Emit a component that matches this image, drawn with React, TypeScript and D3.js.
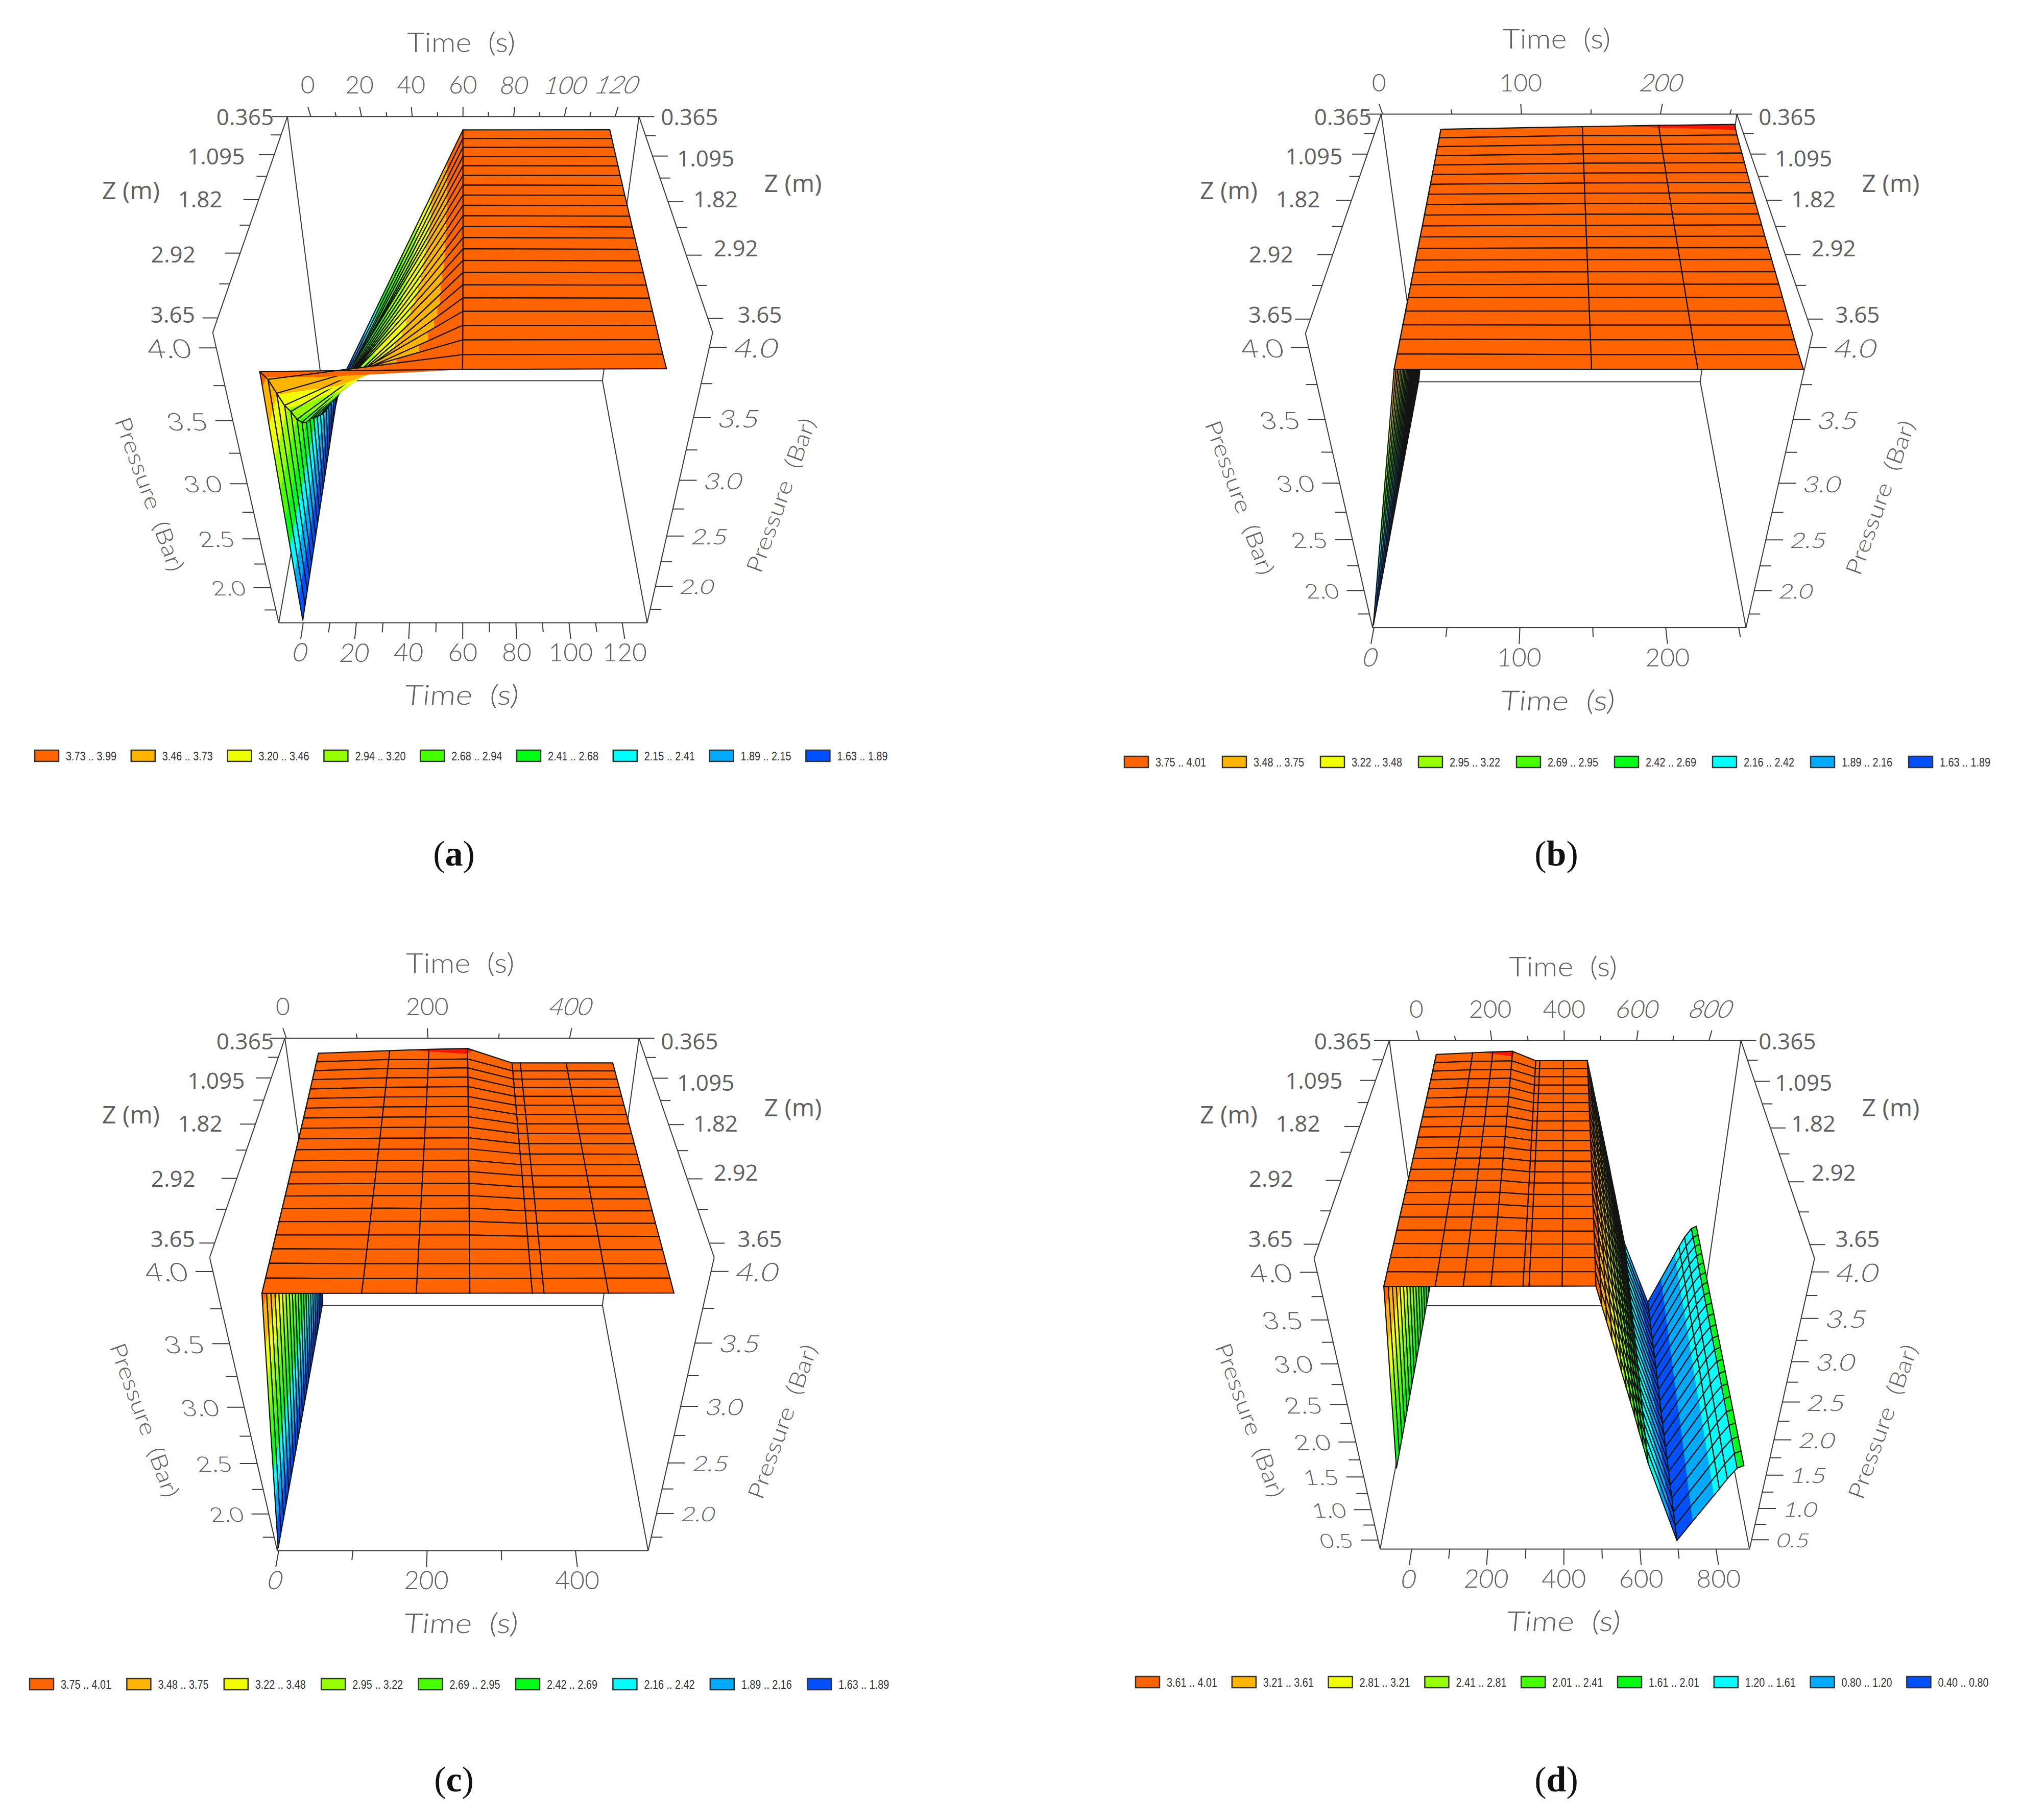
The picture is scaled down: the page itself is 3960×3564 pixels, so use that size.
import React from "react";
import * as d3 from "d3";

const svgWidth = 3960;
const svgHeight = 3564;

// z stations of the grid (22 rows, back of the box to the front)
const zRows = [0.365, 0.511, 0.657, 0.803, 0.949, 1.095, 1.24, 1.386, 1.53, 1.675, 1.82, 2.04, 2.26, 2.48, 2.7, 2.92, 3.066, 3.212, 3.358, 3.504, 3.65, 3.796];
const zTickRows = [0, 2.5, 5, 7.5, 10, 12.5, 15, 17.5, 20];

// pressure per z row, one list for each time column
const startRow = [1.63, 1.63, 1.63, 1.63, 1.63, 1.63, 1.63, 1.63, 1.63, 1.63, 1.63, 1.63, 1.63, 1.63, 1.63, 1.63, 1.63, 1.63, 1.63, 1.63, 1.63, 1.63];
const rampRow = [1.65, 1.67, 1.7, 1.755, 1.81, 1.9, 2.0, 2.06, 2.13, 2.21, 2.3, 2.4, 2.5, 2.61, 2.683, 2.8, 2.94, 3.119, 3.28, 3.482, 3.688, 3.845];
const earlyRow = [3.975, 3.968, 3.961, 3.954, 3.947, 3.94, 3.934, 3.928, 3.922, 3.916, 3.91, 3.905, 3.9, 3.895, 3.89, 3.885, 3.88, 3.875, 3.87, 3.865, 3.86, 3.855];
const settledRow = [3.995, 3.986, 3.977, 3.968, 3.96, 3.951, 3.943, 3.935, 3.928, 3.921, 3.914, 3.908, 3.903, 3.898, 3.893, 3.888, 3.881, 3.875, 3.868, 3.861, 3.856, 3.855];
const midRow = [4.005, 3.985, 3.978, 3.97, 3.962, 3.953, 3.945, 3.937, 3.93, 3.922, 3.915, 3.909, 3.904, 3.899, 3.893, 3.888, 3.881, 3.875, 3.868, 3.861, 3.856, 3.855];
const peakRow = [4.012, 3.99, 3.982, 3.974, 3.965, 3.955, 3.947, 3.939, 3.931, 3.924, 3.917, 3.91, 3.905, 3.9, 3.894, 3.889, 3.882, 3.875, 3.868, 3.861, 3.856, 3.855];
const lateRow = [3.9, 3.898, 3.896, 3.894, 3.892, 3.89, 3.888, 3.886, 3.884, 3.882, 3.88, 3.878, 3.876, 3.874, 3.872, 3.87, 3.868, 3.866, 3.864, 3.861, 3.858, 3.855];

const fall477 = [3.68, 3.68, 3.68, 3.68, 3.68, 3.67, 3.67, 3.67, 3.67, 3.67, 3.67, 3.67, 3.67, 3.67, 3.67, 3.67, 3.67, 3.66, 3.66, 3.66, 3.66, 3.66];
const fall489 = [3.45, 3.45, 3.45, 3.45, 3.45, 3.45, 3.45, 3.46, 3.46, 3.46, 3.46, 3.46, 3.46, 3.46, 3.46, 3.47, 3.47, 3.47, 3.47, 3.47, 3.47, 3.47];
const fall501 = [3.23, 3.23, 3.24, 3.24, 3.24, 3.24, 3.24, 3.25, 3.25, 3.25, 3.25, 3.26, 3.26, 3.26, 3.26, 3.27, 3.27, 3.27, 3.27, 3.27, 3.28, 3.28];
const fall513 = [3.0, 3.0, 3.01, 3.01, 3.02, 3.02, 3.03, 3.03, 3.03, 3.04, 3.04, 3.05, 3.05, 3.06, 3.06, 3.06, 3.07, 3.07, 3.08, 3.08, 3.09, 3.09];
const fall525 = [2.78, 2.79, 2.79, 2.8, 2.8, 2.81, 2.81, 2.82, 2.82, 2.83, 2.83, 2.84, 2.84, 2.85, 2.85, 2.86, 2.86, 2.87, 2.87, 2.88, 2.88, 2.89];
const fall537 = [2.56, 2.57, 2.57, 2.58, 2.59, 2.59, 2.6, 2.61, 2.61, 2.62, 2.63, 2.63, 2.64, 2.64, 2.65, 2.66, 2.66, 2.67, 2.68, 2.68, 2.69, 2.7];
const fall549 = [2.33, 2.34, 2.35, 2.36, 2.36, 2.37, 2.38, 2.39, 2.4, 2.41, 2.42, 2.42, 2.43, 2.44, 2.45, 2.46, 2.47, 2.48, 2.48, 2.49, 2.5, 2.51];
const fall561 = [2.11, 2.12, 2.13, 2.14, 2.15, 2.16, 2.17, 2.18, 2.19, 2.2, 2.21, 2.22, 2.23, 2.24, 2.25, 2.26, 2.27, 2.28, 2.29, 2.3, 2.31, 2.32];
const fall573 = [1.88, 1.89, 1.9, 1.92, 1.93, 1.94, 1.95, 1.96, 1.97, 1.98, 2.0, 2.01, 2.02, 2.03, 2.04, 2.05, 2.06, 2.07, 2.09, 2.1, 2.11, 2.12];
const fall585 = [1.66, 1.67, 1.69, 1.7, 1.71, 1.72, 1.74, 1.75, 1.76, 1.78, 1.79, 1.8, 1.81, 1.83, 1.84, 1.85, 1.87, 1.88, 1.89, 1.9, 1.92, 1.93];
const fall600 = [1.38, 1.39, 1.41, 1.42, 1.44, 1.45, 1.47, 1.48, 1.5, 1.51, 1.53, 1.54, 1.56, 1.57, 1.59, 1.6, 1.62, 1.63, 1.65, 1.66, 1.68, 1.69];
const valley694 = [0.4, 0.4, 0.41, 0.41, 0.42, 0.42, 0.43, 0.43, 0.43, 0.44, 0.44, 0.44, 0.45, 0.45, 0.46, 0.46, 0.47, 0.47, 0.48, 0.48, 0.49, 0.49];
const rise781 = [1.32, 1.32, 1.32, 1.32, 1.32, 1.32, 1.31, 1.31, 1.31, 1.31, 1.31, 1.31, 1.31, 1.31, 1.3, 1.3, 1.3, 1.3, 1.3, 1.3, 1.3, 1.3];
const rise796 = [1.47, 1.47, 1.47, 1.47, 1.47, 1.47, 1.46, 1.46, 1.46, 1.46, 1.46, 1.46, 1.46, 1.46, 1.45, 1.45, 1.45, 1.45, 1.45, 1.45, 1.45, 1.45];
const rise815 = [1.605, 1.605, 1.605, 1.605, 1.605, 1.605, 1.605, 1.605, 1.605, 1.605, 1.605, 1.605, 1.605, 1.605, 1.605, 1.605, 1.605, 1.605, 1.605, 1.605, 1.605, 1.605];
const rise830 = [1.64, 1.64, 1.64, 1.64, 1.64, 1.64, 1.64, 1.64, 1.64, 1.64, 1.64, 1.64, 1.64, 1.64, 1.64, 1.64, 1.64, 1.64, 1.64, 1.64, 1.64, 1.64];

const timesA = [0, 1.75, 60, 118.5];
const columnsA = [startRow, rampRow, settledRow, settledRow];
const timesB = [0, 41, 144, 199.5, 254.5];
const columnsB = [startRow, earlyRow, settledRow, midRow, peakRow];
const timesC = [0, 43, 145, 201, 256, 320, 332, 398, 465];
const columnsC = [startRow, earlyRow, settledRow, midRow, peakRow, lateRow, lateRow, lateRow, lateRow];
const timesD = [0, 43, 145, 201, 256, 320, 332, 398, 465, 477, 489, 501, 513, 525, 537, 549, 561, 573, 585, 600, 694, 781, 796, 815, 830];
const columnsD = [startRow, earlyRow, settledRow, midRow, peakRow, lateRow, lateRow, lateRow, lateRow, fall477, fall489, fall501, fall513, fall525, fall537, fall549, fall561, fall573, fall585, fall600, valley694, rise781, rise796, rise815, rise830];

// legend class limits, high to low
const breaksA = [3.99, 3.73, 3.46, 3.2, 2.94, 2.68, 2.41, 2.15, 1.89, 1.63];
const breaksB = [4.01, 3.75, 3.48, 3.22, 2.95, 2.69, 2.42, 2.16, 1.89, 1.63];
const breaksC = [4.01, 3.75, 3.48, 3.22, 2.95, 2.69, 2.42, 2.16, 1.89, 1.63];
const breaksD = [4.01, 3.61, 3.21, 2.81, 2.41, 2.01, 1.61, 1.2, 0.8, 0.4];
const bandColors = ["#ff6400", "#ffb400", "#f0ff00", "#96ff00", "#46ff00", "#00ff14", "#00ffff", "#00aaff", "#0050ff"];
const overColor = "#ff1400";
const overLimit = 4.0;

const pressureMajor = [4.0, 3.5, 3.0, 2.5, 2.0];
const pressureMinor = [3.75, 3.25, 2.75, 2.25, 1.75];
const pressureMajorD = [4.0, 3.5, 3.0, 2.5, 2.0, 1.5, 1.0, 0.5];
const pressureMinorD = [3.75, 3.25, 2.75, 2.25, 1.75, 1.25, 0.75];

const zLabels = ["0.365", "1.095", "1.82", "2.92", "3.65"];
// the z labels sit in the same spots on every panel (crop coordinates)
const zLeftX = [388, 331, 287, 234, 233];
const zLeftY = [210, 291, 380, 495, 620];
const zRightX = [1150, 1182, 1214, 1254, 1301];
const zRightY = [210, 296, 380, 482, 620];

type Pt = [number, number];
const panels = [
    {
        id: "a", origin: [150, 30], times: timesA, columns: columnsA, breaks: breaksA,
        timeDomain: [-9.2, 129.4], pressureDomain: [1.6, 4.097],
        timeMajor: [0, 20, 40, 60, 80, 100, 120], timeMinor: [10, 30, 50, 70, 90, 110],
        pMajor: pressureMajor, pMinor: pressureMinor,
        corners: { tl: [415, 210], tr: [1107, 210], l: [268, 658], r: [1252, 658], bl: [398, 1260], br: [1123, 1260], il: [482, 758], ir: [1035, 758] },
        zOffset: 0, topTitle: [757, 55], bottomTitle: [758, 1408], leftTitle: [145, 993], rightTitle: [1385, 995],
        legendX: 68, legendY: 1480, legendStep: 188.8, tag: "a", tagX: 889, tagY: 1695,
    },
    {
        id: "b", origin: [2300, 30], times: timesB, columns: columnsB, breaks: breaksB,
        timeDomain: [-1, 255], pressureDomain: [1.6, 4.09],
        timeMajor: [0, 100, 200], timeMinor: [50, 150, 250],
        pMajor: pressureMajor, pMinor: pressureMinor,
        corners: { tl: [407, 205], tr: [1107, 205], l: [258, 660], r: [1256, 660], bl: [390, 1270], br: [1125, 1270], il: [480, 760], ir: [1035, 760] },
        zOffset: 0, topTitle: [752, 47], bottomTitle: [755, 1420], leftTitle: [130, 1000], rightTitle: [1388, 1000],
        legendX: 2202, legendY: 1492, legendStep: 192, tag: "b", tagX: 3048, tagY: 1695,
    },
    {
        id: "c", origin: [150, 1830], times: timesC, columns: columnsC, breaks: breaksC,
        timeDomain: [-2, 498], pressureDomain: [1.6, 4.09],
        timeMajor: [0, 200, 400], timeMinor: [100, 300],
        pMajor: pressureMajor, pMinor: pressureMinor,
        corners: { tl: [410, 215], tr: [1107, 215], l: [262, 670], r: [1255, 670], bl: [395, 1278], br: [1125, 1278], il: [483, 769], ir: [1035, 769] },
        zOffset: 10.5, topTitle: [755, 58], bottomTitle: [757, 1427], leftTitle: [135, 1007], rightTitle: [1388, 1010],
        legendX: 58, legendY: 3298, legendStep: 190.4, tag: "c", tagX: 889, tagY: 3508,
    },
    {
        id: "d", origin: [2300, 1830], times: timesD, columns: columnsD, breaks: breaksD,
        timeDomain: [-83, 888], pressureDomain: [0.344, 4.138],
        timeMajor: [0, 200, 400, 600, 800], timeMinor: [100, 300, 500, 700],
        pMajor: pressureMajorD, pMinor: pressureMinorD,
        corners: { tl: [423, 220], tr: [1115, 220], l: [275, 672], r: [1260, 672], bl: [405, 1275], br: [1132, 1275], il: [495, 770], ir: [1040, 770] },
        zOffset: 10.5, topTitle: [765, 65], bottomTitle: [766, 1423], leftTitle: [150, 1007], rightTitle: [1393, 1010],
        legendX: 2224, legendY: 3294, legendStep: 188.8, tag: "d", tagX: 3048, tagY: 3508,
    },
];

const rowScale = d3.scaleLinear().domain([0, zRows.length - 1]).range([0, 1]);

// unit square (v, w) -> screen quad, so the box keeps its perspective
const quadMap = (p00: Pt, p10: Pt, p11: Pt, p01: Pt) => {
    const dx1 = p10[0] - p11[0], dx2 = p01[0] - p11[0], sx = p00[0] - p10[0] + p11[0] - p01[0];
    const dy1 = p10[1] - p11[1], dy2 = p01[1] - p11[1], sy = p00[1] - p10[1] + p11[1] - p01[1];
    const den = dx1 * dy2 - dx2 * dy1;
    const g = (sx * dy2 - dx2 * sy) / den;
    const h = (dx1 * sy - sx * dy1) / den;
    const a = p10[0] - p00[0] + g * p10[0], b = p01[0] - p00[0] + h * p01[0];
    const d = p10[1] - p00[1] + g * p10[1], e = p01[1] - p00[1] + h * p01[1];
    return {
        depth: (v: number, w: number) => g * v + h * w + 1,
        at: (v: number, w: number): Pt => {
            const q = g * v + h * w + 1;
            return [(a * v + b * w + p00[0]) / q, (d * v + e * w + p00[1]) / q];
        },
    };
};

const makePanel = (panel: any) => {
    const toFull = (p: number[]): Pt => [panel.origin[0] + 0.995 * p[0], panel.origin[1] + 0.944 * p[1]];
    const c = panel.corners;
    const left = quadMap(toFull(c.tl), toFull(c.l), toFull(c.bl), toFull(c.il));
    const right = quadMap(toFull(c.tr), toFull(c.r), toFull(c.br), toFull(c.ir));
    const timeScale = d3.scaleLinear().domain(panel.timeDomain).range([0, 1]);
    const pressureScale = d3.scaleLinear().domain([panel.pressureDomain[1], panel.pressureDomain[0]]).range([0, 1]);
    const at = (u: number, v: number, w: number): Pt => {
        const a = left.at(v, w), b = right.at(v, w);
        return [a[0] + (b[0] - a[0]) * u, a[1] + (b[1] - a[1]) * u];
    };
    return { toFull, left, right, timeScale, pressureScale, at };
};

type Node = { t: number; r: number; p: number };
const mix = (a: Node, b: Node, k: number): Node => ({
    t: a.t + (b.t - a.t) * k,
    r: a.r + (b.r - a.r) * k,
    p: a.p + (b.p - a.p) * k,
});

// keep the part of a polygon on one side of a pressure level
const clipLevel = (poly: Node[], level: number, keepAbove: boolean) => {
    const out: Node[] = [];
    poly.forEach((n, i) => {
        const next = poly[(i + 1) % poly.length];
        const inN = keepAbove ? n.p >= level : n.p <= level;
        const inNext = keepAbove ? next.p >= level : next.p <= level;
        if (inN) out.push(n);
        if (inN !== inNext) out.push(mix(n, next, (level - n.p) / (next.p - n.p)));
    });
    return out;
};

const pathLine = d3.line();

const buildSurface = (panel: any, geo: any) => {
    const { times, columns, breaks } = panel;
    const limits = [Infinity, overLimit, ...breaks.slice(1, -1), -Infinity];
    const colors = [overColor, ...bandColors];
    const project = (n: Node) => geo.at(geo.timeScale(n.t), rowScale(n.r), geo.pressureScale(n.p));
    const toPath = (poly: Node[]) => pathLine(poly.map(project)) + "Z";
    const cells: any[] = [];
    for (let c = 0; c < times.length - 1; c++) {
        for (let r = 0; r < zRows.length - 1; r++) {
            const n = (ci: number, ri: number): Node => ({ t: times[ci], r: ri, p: columns[ci][ri] });
            const quad = [n(c, r), n(c + 1, r), n(c + 1, r + 1), n(c, r + 1)];
            const bands: any[] = [];
            [[quad[0], quad[1], quad[2]], [quad[0], quad[2], quad[3]]].forEach((tri) => {
                colors.forEach((color, i) => {
                    let poly = tri;
                    if (limits[i] !== Infinity) poly = clipLevel(poly, limits[i], false);
                    if (poly.length && limits[i + 1] !== -Infinity) poly = clipLevel(poly, limits[i + 1], true);
                    if (poly.length > 2) bands.push({ d: toPath(poly), color });
                });
            });
            const depth = d3.mean(quad, (q) => geo.left.depth(rowScale(q.r), geo.pressureScale(q.p)));
            cells.push({ key: `${c}-${r}`, depth, bands, outline: toPath(quad) });
        }
    }
    return cells.sort((a, b) => d3.descending(a.depth, b.depth));
};

const numberFont = "Lato, 'Open Sans', sans-serif";
const labelFont = "'Open Sans', sans-serif";
const gray = "#606060";

const Hershey = ({ x, y, size, lean = 0, stretch = 1, rotate = 0, width, anchor = "middle", children }: any) => (
    <text
        transform={`translate(${x},${y}) rotate(${rotate}) skewX(${(-Math.atan(lean) * 180) / Math.PI}) scale(${stretch},1)`}
        textAnchor={anchor}
        dominantBaseline="central"
        fontFamily={numberFont}
        fontWeight={300}
        fontSize={size}
        fill={gray}
        textLength={width}
        lengthAdjust={width ? "spacingAndGlyphs" : undefined}
        style={{ whiteSpace: "pre" }}
    >
        {children}
    </text>
);

const Panel = ({ panel }: any) => {
    const geo = makePanel(panel);
    const { at, toFull, timeScale, pressureScale, left } = geo;
    const cells = buildSurface(panel, geo);

    const frame: [Pt, Pt][] = [
        [at(0, 0, 0), at(1, 0, 0)],
        [at(0, 0, 0), at(0, 1, 0)],
        [at(0, 1, 0), at(0, 1, 1)],
        [at(0, 1, 1), at(1, 1, 1)],
        [at(1, 1, 1), at(1, 1, 0)],
        [at(1, 1, 0), at(1, 0, 0)],
        [at(0, 0, 0), at(0, 0, 1)],
        [at(1, 0, 0), at(1, 0, 1)],
        [at(0, 0, 1), at(1, 0, 1)],
        [at(0, 1, 1), at(0, 0, 1)],
        [at(1, 1, 1), at(1, 0, 1)],
    ];

    // top ticks splay outward from the middle of the box, bottom ticks follow the z edges
    const topTickEnd = (u: number, len: number): Pt => {
        const a = at(u, 0, 0), b = at(u, -len, 0);
        return [a[0] - (b[0] - a[0]), b[1]];
    };
    const tickLines: [Pt, Pt][] = [];
    const timeTick = (t: number, long: boolean) => {
        const u = timeScale(t);
        tickLines.push([at(u, 0, 0), topTickEnd(u, long ? 0.065 : 0.03)]);
        tickLines.push([at(u, 1, 1), at(u, long ? 1.05 : 1.03, 1)]);
    };
    panel.timeMajor.forEach((t: number) => timeTick(t, true));
    panel.timeMinor.forEach((t: number) => timeTick(t, false));
    zTickRows.forEach((r, i) => {
        const v = rowScale(r);
        const len = i % 2 === 0 ? 30 : 20;
        const a = at(0, v, 0), b = at(1, v, 0);
        tickLines.push([a, [a[0] - len, a[1]]], [b, [b[0] + len, b[1]]]);
    });
    const pTick = (p: number, len: number) => {
        const w = pressureScale(p);
        const a = at(0, 1, w), b = at(1, 1, w);
        tickLines.push([a, [a[0] - len, a[1]]], [b, [b[0] + len, b[1]]]);
    };
    panel.pMajor.forEach((p: number) => pTick(p, 34));
    panel.pMinor.forEach((p: number) => pTick(p, 22));

    const leanLeft = (at(0, 1, 0)[0] - at(0, 1, 1)[0]) / (at(0, 1, 1)[1] - at(0, 1, 0)[1]);
    const leanRight = (at(1, 1, 0)[0] - at(1, 1, 1)[0]) / (at(1, 1, 1)[1] - at(1, 1, 0)[1]);
    const top = toFull([0, panel.corners.tl[1] - 67])[1];
    const bottom = toFull([0, panel.corners.bl[1] + 60])[1];
    const centerX = (at(0, 0, 0)[0] + at(1, 0, 0)[0]) / 2;
    const breaks = panel.breaks;

    return (
        <g>
            {frame.concat(tickLines).map((l, i) => (
                <line key={i} x1={l[0][0]} y1={l[0][1]} x2={l[1][0]} y2={l[1][1]} stroke="#3a3a3a" strokeWidth={2} />
            ))}
            {cells.map((cell) => (
                <g key={cell.key}>
                    {cell.bands.map((b: any, i: number) => (
                        <path key={i} d={b.d} fill={b.color} stroke={b.color} strokeWidth={0.6} />
                    ))}
                    <path d={cell.outline} fill="none" stroke="#141414" strokeWidth={2.2} strokeLinejoin="round" />
                </g>
            ))}
            {panel.timeMajor.map((t: number) => {
                const u = timeScale(t);
                const a = at(u, 0, 0), b = topTickEnd(u, 0.065);
                const c = at(u, 1, 1), d = at(u, 1.05, 1);
                const topLean = Math.max(0, (b[0] - a[0]) / (a[1] - b[1])) * 1.4;
                const bottomLean = Math.max(0, (c[0] - d[0]) / (d[1] - c[1])) * 1.2;
                return (
                    <g key={t}>
                        <Hershey x={a[0] + (a[0] - centerX) * 0.02} y={top} size={48} lean={topLean}>{t}</Hershey>
                        <Hershey x={d[0]} y={bottom} size={50} lean={bottomLean}>{t}</Hershey>
                    </g>
                );
            })}
            {panel.pMajor.map((p: number) => {
                const w = pressureScale(p);
                const a = at(0, 1, w), b = at(1, 1, w);
                const size = 36 / left.depth(1, w);
                return (
                    <g key={p}>
                        <Hershey x={a[0] - 34 - 16} y={a[1]} size={size} stretch={1.2} lean={leanLeft} anchor="end">{p.toFixed(1)}</Hershey>
                        <Hershey x={b[0] + 34 + 16} y={b[1]} size={size} stretch={1.2} lean={leanRight} anchor="start">{p.toFixed(1)}</Hershey>
                    </g>
                );
            })}
            {zLabels.map((label, i) => {
                const a = toFull([zLeftX[i], zLeftY[i] + panel.zOffset]);
                const b = toFull([zRightX[i], zRightY[i] + panel.zOffset]);
                return (
                    <g key={label} fontFamily={labelFont} fontSize={44} fill={gray} dominantBaseline="central">
                        <text x={a[0]} y={a[1]} textAnchor="end">{label}</text>
                        <text x={b[0]} y={b[1]} textAnchor="start">{label}</text>
                    </g>
                );
            })}
            <g fontFamily={labelFont} fontSize={48} fill={gray} textAnchor="middle" dominantBaseline="central">
                <text x={toFull([107, 362 + panel.zOffset])[0]} y={toFull([107, 362 + panel.zOffset])[1]}>Z (m)</text>
                <text x={toFull([1410, 347 + panel.zOffset])[0]} y={toFull([1410, 347 + panel.zOffset])[1]}>Z (m)</text>
            </g>
            <Hershey x={toFull(panel.topTitle)[0]} y={toFull(panel.topTitle)[1]} size={54} width={212}>{"Time  (s)"}</Hershey>
            <Hershey x={toFull(panel.bottomTitle)[0]} y={toFull(panel.bottomTitle)[1]} size={54} width={224} lean={0.1}>{"Time  (s)"}</Hershey>
            <Hershey x={toFull(panel.leftTitle)[0]} y={toFull(panel.leftTitle)[1]} size={44} width={318} rotate={70}>{"Pressure  (Bar)"}</Hershey>
            <Hershey x={toFull(panel.rightTitle)[0]} y={toFull(panel.rightTitle)[1]} size={44} width={318} rotate={-70}>{"Pressure  (Bar)"}</Hershey>
            {bandColors.map((color, i) => {
                const x = panel.legendX + i * panel.legendStep;
                return (
                    <g key={color}>
                        <rect x={x} y={panel.legendY - 11} width={47} height={22} fill={color} stroke="#333" strokeWidth={2.5} />
                        <text
                            x={x + 61}
                            y={panel.legendY}
                            dominantBaseline="central"
                            fontFamily="'Liberation Sans Narrow', 'Liberation Sans', sans-serif"
                            fontSize={24}
                            fill="#333"
                            textLength={99}
                            lengthAdjust="spacingAndGlyphs"
                        >
                            {`${breaks[i + 1].toFixed(2)} .. ${breaks[i].toFixed(2)}`}
                        </text>
                    </g>
                );
            })}
            <text x={panel.tagX} y={panel.tagY} textAnchor="middle" fontFamily="'Liberation Serif', serif" fontSize={70} fill="#111">
                (<tspan fontWeight="bold">{panel.tag}</tspan>)
            </text>
        </g>
    );
};

const App = () => (
    <svg
        width={svgWidth}
        height={svgHeight}
        viewBox={`0 0 ${svgWidth} ${svgHeight}`}
        style={{ position: "absolute", left: 0, top: 0, background: "#fff" }}
    >
        {panels.map((panel) => (
            <Panel key={panel.id} panel={panel} />
        ))}
    </svg>
);

export default App;
